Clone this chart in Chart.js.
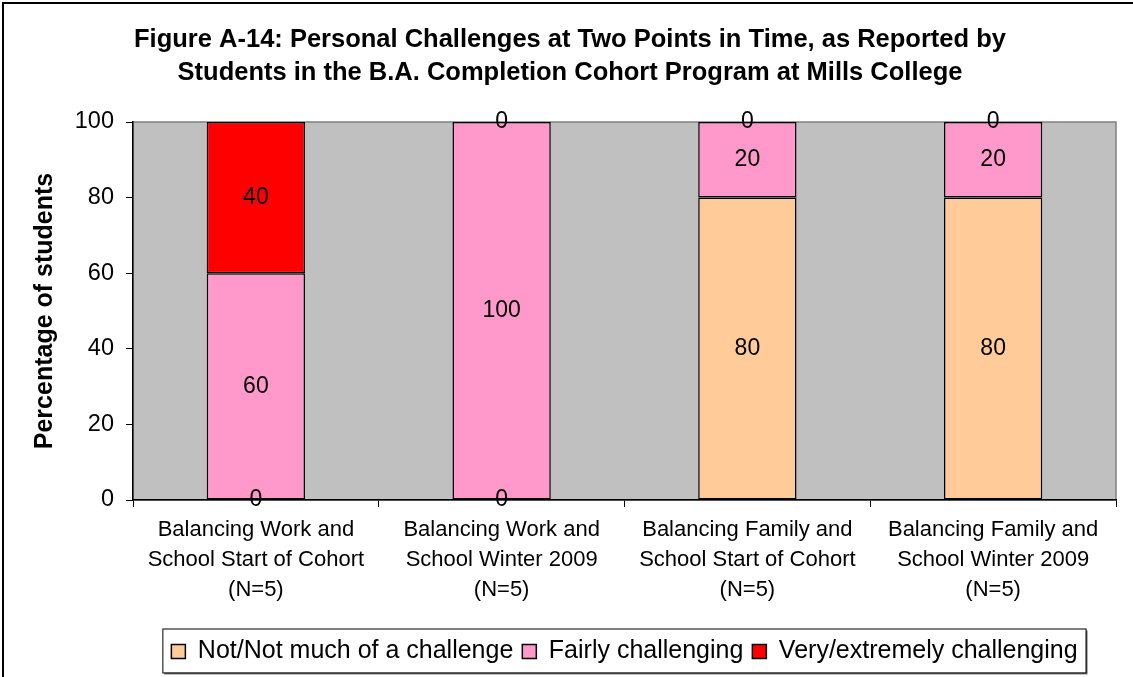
<!DOCTYPE html>
<html>
<head>
<meta charset="utf-8">
<script src="https://cdn.jsdelivr.net/npm/chart.js"></script>
<style>
  body { margin: 0; background: #fff; }
  #wrap { width: 1133px; height: 677px; }
</style>
</head>
<body>
<div id="wrap"><canvas id="chart" width="1133" height="677"></canvas></div>
<script>
const categories = [
  ['Balancing Work and', 'School Start of Cohort', '(N=5)'],
  ['Balancing Work and', 'School Winter 2009', '(N=5)'],
  ['Balancing Family and', 'School Start of Cohort', '(N=5)'],
  ['Balancing Family and', 'School Winter 2009', '(N=5)']
];
const notMuch = [0, 0, 80, 80];
const fairly = [60, 100, 20, 20];
const veryExtremely = [40, 0, 0, 0];
const yTicks = [0, 20, 40, 60, 80, 100];

Chart.defaults.font.family = '"Liberation Sans", Arial, sans-serif';
Chart.defaults.color = '#000';

// gray plot area + outer frame
const frame = {
  id: 'frame',
  beforeDraw(chart) {
    const { ctx, chartArea: a } = chart;
    ctx.save();
    ctx.fillStyle = '#fff';
    ctx.fillRect(0, 0, chart.width, chart.height);
    ctx.fillStyle = '#C0C0C0';
    ctx.fillRect(a.left, a.top, a.right - a.left, a.bottom - a.top);
    ctx.strokeStyle = '#808080';
    ctx.lineWidth = 1.5;
    ctx.strokeRect(a.left, a.top, a.right - a.left, a.bottom - a.top);
    ctx.strokeStyle = '#000';
    ctx.lineWidth = 2;
    ctx.beginPath();
    ctx.moveTo(3, chart.height);
    ctx.lineTo(3, 3);
    ctx.lineTo(chart.width, 3);
    ctx.stroke();
    ctx.restore();
  }
};

// values written on the bar segments
const valueLabels = {
  id: 'valueLabels',
  afterDatasetsDraw(chart) {
    const ctx = chart.ctx;
    ctx.save();
    ctx.font = '23px "Liberation Sans", Arial, sans-serif';
    ctx.fillStyle = '#000';
    ctx.textAlign = 'center';
    ctx.textBaseline = 'middle';
    chart.data.datasets.forEach((ds, i) => {
      chart.getDatasetMeta(i).data.forEach((bar, j) => {
        ctx.fillText(String(ds.data[j]), bar.x, (bar.y + bar.base) / 2);
      });
    });
    ctx.restore();
  }
};

// box round the legend
const legendBox = {
  id: 'legendBox',
  afterDraw(chart) {
    const boxes = chart.legend.legendHitBoxes;
    if (!boxes || !boxes.length) return;
    const l = Math.min(...boxes.map(b => b.left)) - 9;
    const r = Math.max(...boxes.map(b => b.left + b.width)) + 8;
    const mid = boxes[0].top + boxes[0].height / 2;
    const t = mid - 23, h = 44;
    const ctx = chart.ctx;
    ctx.save();
    ctx.strokeStyle = '#808080';
    ctx.lineWidth = 2;
    ctx.beginPath();
    ctx.moveTo(l + 2, t + h + 1);
    ctx.lineTo(r + 1, t + h + 1);
    ctx.lineTo(r + 1, t + 2);
    ctx.stroke();
    ctx.strokeStyle = '#000';
    ctx.lineWidth = 1;
    ctx.strokeRect(l + 0.5, t + 0.5, r - l, h);
    ctx.restore();
  }
};

new Chart(document.getElementById('chart'), {
  type: 'bar',
  data: {
    labels: categories,
    datasets: [{
      label: 'Not/Not much of a challenge',
      data: notMuch,
      backgroundColor: '#FFCC99',
      borderColor: '#000',
      borderWidth: 1.5,
      borderSkipped: false
    }, {
      label: 'Fairly challenging',
      data: fairly,
      backgroundColor: '#FF99CC',
      borderColor: '#000',
      borderWidth: 1.5,
      borderSkipped: false
    }, {
      label: 'Very/extremely challenging',
      data: veryExtremely,
      backgroundColor: '#FF0000',
      borderColor: '#000',
      borderWidth: 1.5,
      borderSkipped: false
    }]
  },
  options: {
    responsive: false,
    animation: false,
    categoryPercentage: 1,
    barPercentage: 0.4,
    layout: { padding: { left: 24, right: 17, top: 20, bottom: 3 } },
    plugins: {
      tooltip: { enabled: false },
      title: {
        display: true,
        text: ['Figure A-14: Personal Challenges at Two Points in Time, as Reported by',
               'Students in the B.A. Completion Cohort Program at Mills College'],
        color: '#000',
        font: { size: 25.5, weight: 'bold', lineHeight: 1.3 },
        padding: { top: 3, bottom: 32.7 }
      },
      legend: {
        position: 'bottom',
        fullSize: false,
        labels: {
          color: '#000',
          boxWidth: 14,
          boxHeight: 14,
          padding: 9,
          font: { size: 25 }
        }
      }
    },
    scales: {
      x: {
        stacked: true,
        grid: { offset: true, drawOnChartArea: false, color: '#000', tickLength: 7 },
        border: { color: '#000', width: 1.5 },
        ticks: { color: '#000', font: { size: 22, lineHeight: 1.36 }, maxRotation: 0, autoSkip: false, padding: 8 },
        afterFit(s) { s.height = 130; }
      },
      y: {
        stacked: true,
        min: 0,
        max: 100,
        afterBuildTicks(s) { s.ticks = yTicks.map(v => ({ value: v })); },
        grid: { drawOnChartArea: false, color: '#000', tickLength: 7 },
        border: { color: '#000', width: 1.5 },
        ticks: { color: '#000', font: { size: 23.5 }, padding: 12 },
        title: {
          display: true,
          text: 'Percentage of students',
          color: '#000',
          font: { size: 25, weight: 'bold' },
          padding: { top: 6, bottom: 0 }
        },
        afterFit(s) { s.width = 109; }
      }
    }
  },
  plugins: [frame, valueLabels, legendBox]
});
</script>
</body>
</html>
